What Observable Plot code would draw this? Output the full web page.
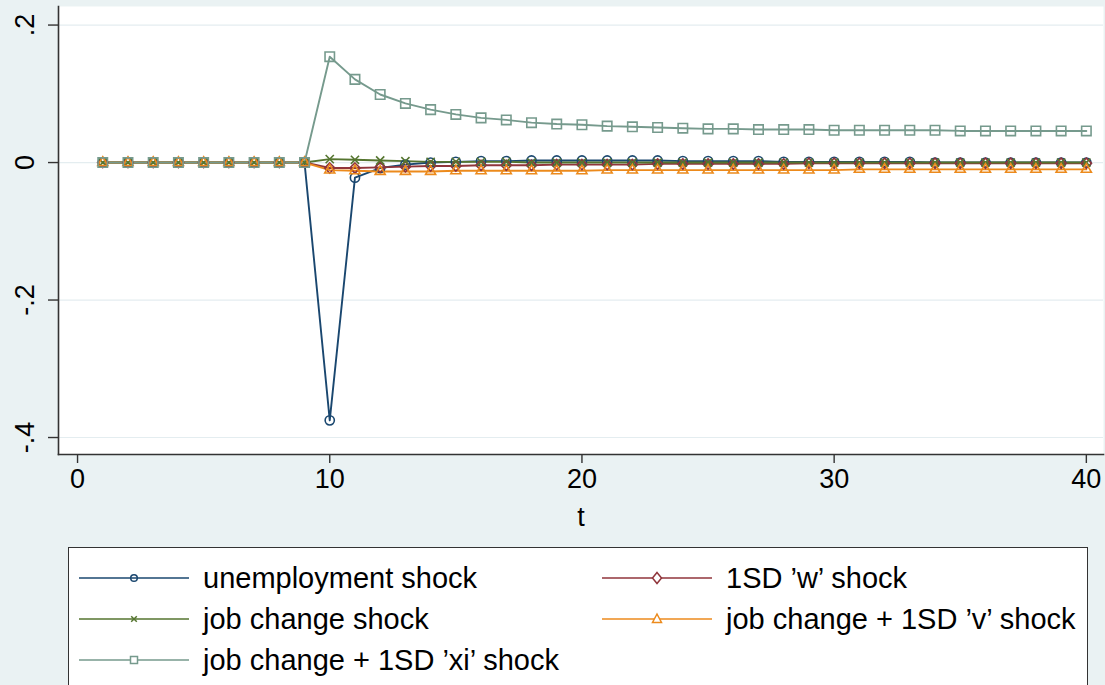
<!DOCTYPE html>
<html>
<head>
<meta charset="utf-8">
<script src="https://cdn.jsdelivr.net/npm/d3@7"></script>
<script src="https://cdn.jsdelivr.net/npm/@observablehq/plot@0.6"></script>
<style>
  html, body { margin: 0; padding: 0; background: #eaf2f3; overflow: hidden; }
  body { width: 1105px; height: 685px; position: relative; font-family: "Liberation Sans", Arial, sans-serif; }
  #chart { position: absolute; left: 0; top: 0; }
  #legend { position: absolute; left: 68px; top: 547px; width: 1020px; height: 170px;
            background: #fff; border: 1.5px solid #333; box-sizing: border-box; }
  .item { position: absolute; display: flex; align-items: center; font-size: 29px; color: #000; white-space: nowrap; }
  .item svg { margin-right: 14px; }
</style>
</head>
<body>
<div id="chart"></div>
<div id="legend"></div>
<script>
// ---- data ----
const t = [1,2,3,4,5,6,7,8,9,10,11,12,13,14,15,16,17,18,19,20,21,22,23,24,25,26,27,28,29,30,31,32,33,34,35,36,37,38,39,40];
const seriesNames = ["unemployment shock", "1SD \u2019w\u2019 shock", "job change shock", "job change + 1SD \u2019v\u2019 shock", "job change + 1SD \u2019xi\u2019 shock"];
const unemployment = [0,0,0,0,0,0,0,0,0,-0.375,-0.022,-0.008,-0.003,0.000,0.001,0.002,0.002,0.003,0.003,0.003,0.003,0.003,0.003,0.002,0.002,0.002,0.002,0.001,0.001,0.001,0.001,0.001,0.001,0.000,0.000,0.000,0.000,0.000,0.000,0.000];
const wShock = [0,0,0,0,0,0,0,0,0,-0.008,-0.008,-0.007,-0.006,-0.005,-0.005,-0.004,-0.004,-0.004,-0.003,-0.003,-0.003,-0.003,-0.002,-0.002,-0.002,-0.002,-0.002,-0.002,-0.001,-0.001,-0.001,-0.001,-0.001,-0.001,-0.001,-0.001,-0.001,-0.001,-0.001,-0.001];
const jobChange = [0,0,0,0,0,0,0,0,0,0.005,0.004,0.003,0.002,0.001,0.001,0.001,0.001,0.000,0.000,0.000,0.000,0.000,0.000,0.000,0.000,0.000,0.000,0.000,0.000,0.000,0.000,0.000,0.000,0.000,0.000,0.000,0.000,0.000,0.000,0.000];
const vShock = [0,0,0,0,0,0,0,0,0,-0.011,-0.012,-0.013,-0.013,-0.013,-0.012,-0.012,-0.012,-0.012,-0.012,-0.012,-0.011,-0.011,-0.011,-0.011,-0.011,-0.011,-0.011,-0.011,-0.011,-0.011,-0.010,-0.010,-0.010,-0.010,-0.010,-0.010,-0.010,-0.010,-0.010,-0.010];
const xiShock = [0,0,0,0,0,0,0,0,0,0.154,0.121,0.099,0.086,0.077,0.070,0.065,0.062,0.058,0.056,0.055,0.053,0.052,0.051,0.050,0.049,0.049,0.048,0.048,0.048,0.047,0.047,0.047,0.047,0.047,0.046,0.046,0.046,0.046,0.046,0.046];
const xTicks = [0,10,20,30,40];
const yTicks = [0.2, 0, -0.2, -0.4];
const yTickLabels = [".2", "0", "-.2", "-.4"];

// ---- styles ----
const seriesValues = [unemployment, wShock, jobChange, vShock, xiShock];
const colors = ["#1a476f", "#90353b", "#55752f", "#ec8a1c", "#769a8d"];
const symbols = ["circle", "diamond2", "times", "triangle2", "square2"];
const radii = [4.6, 4.6, 3.8, 4.8, 6.0];
const drawOrder = [0, 1, 2, 3, 4];

const tables = seriesValues.map((vals, i) => t.map((tt, j) => ({t: tt, v: vals[j], s: seriesNames[i]})));

const marks = [
  Plot.frame({fill: "white", stroke: null}),
  Plot.gridY(yTicks, {stroke: "#e4edf0", strokeOpacity: 1, strokeWidth: 1.2}),
  Plot.axisY(yTicks, {tickSize: 10, tickFormat: () => "", stroke: "#333", strokeWidth: 1.4, label: null}),
  Plot.text(yTicks, {y: d => d, text: (d, i) => yTickLabels[i], frameAnchor: "left", dx: -25,
    rotate: -90, textAnchor: "middle", lineAnchor: "bottom", fontSize: 27, fill: "#000"}),
  Plot.axisX(xTicks, {tickSize: 9, tickPadding: 5, fontSize: 27, fill: "#000", stroke: "#333", strokeWidth: 1.4, label: null}),
  Plot.text(["t"], {frameAnchor: "bottom", dy: 71, lineAnchor: "bottom", fontSize: 27, fill: "#000"}),
];
for (const i of drawOrder) {
  marks.push(Plot.line(tables[i], {x: "t", y: "v", stroke: colors[i], strokeWidth: 1.9}));
}
for (const i of drawOrder) {
  marks.push(Plot.dot(tables[i], {x: "t", y: "v", symbol: () => symbols[i], r: radii[i], stroke: colors[i], fill: "none", strokeWidth: 1.6}));
}
marks.push(Plot.frame({anchor: "left", stroke: "#333", strokeWidth: 1.6}));
marks.push(Plot.frame({anchor: "bottom", stroke: "#333", strokeWidth: 1.6}));

const chart = Plot.plot({
  width: 1105,
  height: 545,
  marginLeft: 58,
  marginRight: 2,
  marginTop: 6,
  marginBottom: 91,
  style: {background: "transparent", fontFamily: "Liberation Sans, Arial, sans-serif"},
  x: {domain: [-0.755, 40.68]},
  y: {domain: [-0.4247, 0.227]},
  symbol: {type: "identity"},
  marks
});
document.getElementById("chart").appendChild(chart);

// ---- legend ----
const legend = document.getElementById("legend");
const positions = [[10, 30], [533, 30], [10, 71], [533, 71], [10, 112]];
const legendOrder = [0, 1, 2, 3, 4];
function symbolPath(i) {
  const cx = 55, cy = 10;
  switch (symbols[i]) {
    case "circle": return `<circle cx="${cx}" cy="${cy}" r="3.3" fill="none" stroke="${colors[i]}" stroke-width="1.5"/>`;
    case "diamond2": return `<path d="M${cx},${cy-5.5}L${cx+4.5},${cy}L${cx},${cy+5.5}L${cx-4.5},${cy}Z" fill="white" stroke="${colors[i]}" stroke-width="1.5"/>`;
    case "times": return `<path d="M${cx-2.8},${cy-2.8}L${cx+2.8},${cy+2.8}M${cx-2.8},${cy+2.8}L${cx+2.8},${cy-2.8}" stroke="${colors[i]}" stroke-width="1.5"/>`;
    case "triangle2": return `<path d="M${cx},${cy-5}L${cx+4.5},${cy+3.5}L${cx-4.5},${cy+3.5}Z" fill="white" stroke="${colors[i]}" stroke-width="1.5"/>`;
    case "square2": return `<rect x="${cx-3.5}" y="${cy-3.5}" width="7" height="7" fill="white" stroke="${colors[i]}" stroke-width="1.5"/>`;
  }
}
legendOrder.forEach((i, k) => {
  const [lx, ly] = positions[k];
  const div = document.createElement("div");
  div.className = "item";
  div.style.left = lx + "px";
  div.style.top = (ly - 18) + "px";
  div.style.height = "36px";
  div.innerHTML = `<svg width="110" height="20"><line x1="0" y1="10" x2="110" y2="10" stroke="${colors[i]}" stroke-width="1.7"/>${symbolPath(i)}</svg><span>${seriesNames[i]}</span>`;
  legend.appendChild(div);
});
</script>
</body>
</html>
